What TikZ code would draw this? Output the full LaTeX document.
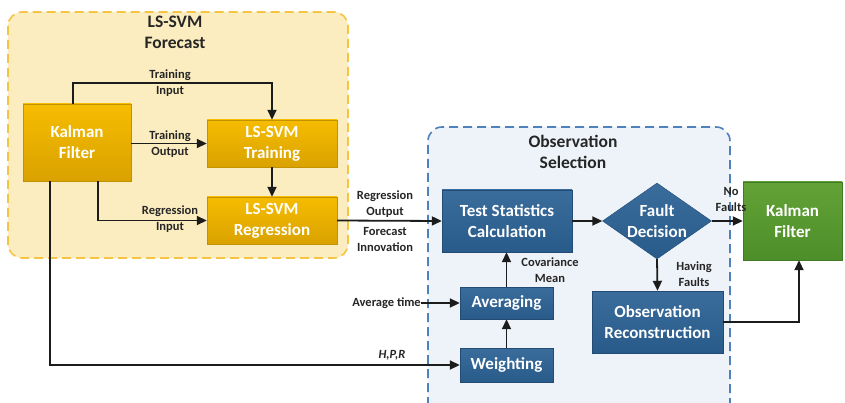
\documentclass[tikz,border=0pt]{standalone}
\usepackage{fontspec}
\setmainfont{Carlito}
\usetikzlibrary{arrows.meta,shapes.geometric}

\definecolor{fcfill}{HTML}{FCEDC0}
\definecolor{fcline}{HTML}{F6C443}
\definecolor{osfill}{HTML}{EEF3F9}
\definecolor{osline}{HTML}{4F81BD}
\definecolor{orgTop}{HTML}{F6BC00}
\definecolor{orgBot}{HTML}{D9A200}
\definecolor{bluTop}{HTML}{3A6C9C}
\definecolor{bluBot}{HTML}{285A8A}
\definecolor{grnTop}{HTML}{62A236}
\definecolor{grnBot}{HTML}{4E8E2A}
\definecolor{ink}{HTML}{1C1C1C}
\definecolor{titleink}{HTML}{262626}

\tikzset{
  boxtext/.style={font=\fontsize{17}{21}\selectfont\bfseries, text=white, align=center, inner sep=0pt},
  obox/.style={boxtext, rectangle, top color=orgTop, bottom color=orgBot, draw=orgBot!90!black, line width=0.4pt},
  bbox/.style={boxtext, rectangle, top color=bluTop, bottom color=bluBot, draw=bluBot!85!black, line width=0.4pt},
  gbox/.style={boxtext, rectangle, top color=grnTop, bottom color=grnBot, draw=grnBot!85!black, line width=0.4pt},
  bdiam/.style={diamond, top color=bluTop, bottom color=bluBot, draw=bluBot!85!black, line width=0.4pt, inner sep=0pt},
  lbl/.style={font=\fontsize{12.5}{16}\selectfont\bfseries, text=titleink, align=center, inner sep=0pt},
  ttl/.style={font=\fontsize{17.5}{21}\selectfont\bfseries, text=titleink, align=center, inner sep=0pt},
  arr/.style={draw=ink, line width=1.8pt, -{Triangle[length=10pt,width=9pt]}},
}

\begin{document}
\begin{tikzpicture}[x=1pt,y=-1pt]
\useasboundingbox (0,0) rectangle (845,403);
\fill[white] (0,0) rectangle (845,403);

% LS-SVM forecast group
\draw[fill=fcfill, draw=fcline, line width=1.6pt, dash pattern=on 9pt off 5pt, rounded corners=14pt]
  (8,12) rectangle (348,258);
\node[ttl] (fctitle) at (175,32.5) {LS-SVM\\Forecast};

% observation selection group (runs past the lower edge)
\begin{scope}
  \clip (0,0) rectangle (845,403);
  \fill[osfill, rounded corners=14pt] (428,127) rectangle (730,420);
  \draw[draw=osline, line width=1.6pt, dash pattern=on 9pt off 5pt, rounded corners=14pt]
    (428,420) -- (428,127) -- (730,127) -- (730,420);
\end{scope}
\node[ttl] (ostitle) at (573,152) {Observation\\Selection};

% blocks
\node[obox, minimum width=108pt, minimum height=77pt] (kf) at (77,142.5) {Kalman\\Filter};
\node[obox, minimum width=130pt, minimum height=47pt] (train) at (272,143.5) {LS-SVM\\Training};
\node[obox, minimum width=130pt, minimum height=47pt] (regr) at (272,220.5) {LS-SVM\\Regression};

\node[bbox, minimum width=130pt, minimum height=62pt] (tsc) at (507,221) {Test Statistics\\Calculation};
\node[bdiam, minimum width=109pt, minimum height=76pt] (fd) at (657,221) {};
\node[boxtext] (fdtext) at (fd.center) {Fault\\Decision};
\node[bbox, minimum width=131pt, minimum height=62pt] (orec) at (657.5,322) {Observation\\Reconstruction};
\node[bbox, minimum width=93pt, minimum height=32pt] (avg) at (506.5,303) {Averaging};
\node[bbox, minimum width=93pt, minimum height=34pt] (wgt) at (506.5,365) {Weighting};

\node[gbox, minimum width=99pt, minimum height=78pt] (kf2) at (792.5,221) {Kalman\\Filter};

% connectors inside the forecast group
\draw[arr] ([xshift=-4pt]kf.north) -- ++(0,-21) -| (train.north);
\node[lbl] (lti) at (170,83.5) {Training\\Input};
\draw[arr] (kf.east |- train.west) -- (train.west);
\node[lbl] (lto) at (170,144) {Training\\Output};
\draw[arr] ([xshift=21pt]kf.south) |- (regr.west);
\node[lbl] (lri) at (170,219) {Regression\\Input};
\draw[arr] (train.south) -- (regr.north);

% forecast to observation selection
\draw[arr] (regr.east) -- (tsc.west);
\node[lbl] (lro) at (385,204) {Regression\\Output};
\node[lbl] (lfi) at (385,239.5) {Forecast\\Innovation};

\draw[arr] ([xshift=-27pt]kf.south) |- (wgt.west);
\node[lbl] (lhpr) at (392,355.5) {\itshape H,P,R};

\node[lbl, anchor=east] (avt) at (421,303) {Average time};
\draw[arr] (avt.east) -- (avg.west);

\draw[arr] (wgt.north) -- (avg.south);
\draw[arr] (avg.north) -- (avg.north |- tsc.south);
\node[lbl] (lcm) at (550,270.5) {Covariance\\Mean};

\draw[arr] (tsc.east) -- (fd.west);
\draw[arr] (fd.east) -- (kf2.west);
\node[lbl] (lnf) at (731,199.5) {No\\Faults};
\draw[arr] (fd.south) -- (orec.north);
\node[lbl] (lhf) at (694,274) {Having\\Faults};
\draw[arr] (orec.east) -| ([xshift=6.5pt]kf2.south);

\end{tikzpicture}
\end{document}
